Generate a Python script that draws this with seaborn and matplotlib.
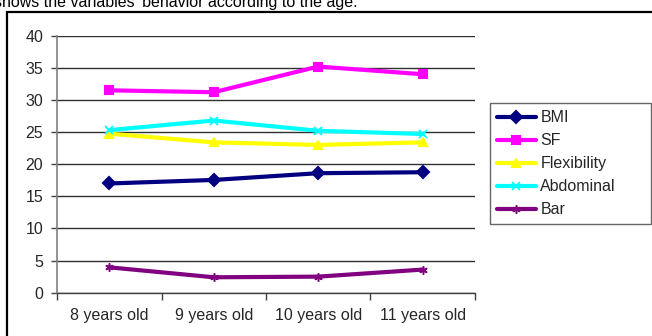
import matplotlib
matplotlib.use("Agg")
import matplotlib.pyplot as plt
import seaborn as sns
import pandas as pd
from matplotlib.patches import Rectangle

ages = ["8 years old", "9 years old", "10 years old", "11 years old"]
bmi = [17.0, 17.55, 18.6, 18.75]
sf = [31.5, 31.2, 35.2, 34.0]
flexibility = [24.75, 23.4, 23.0, 23.4]
abdominal = [25.3, 26.8, 25.2, 24.7]
bar = [3.95, 2.4, 2.5, 3.6]
series_names = ["BMI", "SF", "Flexibility", "Abdominal", "Bar"]
y_ticks = [0, 5, 10, 15, 20, 25, 30, 35, 40]
caption = "shows the variables' behavior according to the age."

sns.set_theme(style="white")
plt.rcParams["font.family"] = ["Liberation Sans", "DejaVu Sans"]

W, H = 652, 336
fig = plt.figure(figsize=(W / 100, H / 100), dpi=100)

# outer chart frame and caption
fig.patches.append(Rectangle((7 / W, -0.1), 1.1, 1 - 12 / H + 0.1,
                             transform=fig.transFigure, fill=False,
                             edgecolor="black", linewidth=1.6))
fig.text(-6 / W, 1 - 7 / H, caption, fontsize=11.5, va="baseline", ha="left",
         color="black")

ax = fig.add_axes([57 / W, (H - 292.7) / H, 418 / W, 257 / H])

df = pd.DataFrame({
    "age": ages * 5,
    "value": bmi + sf + flexibility + abdominal + bar,
    "series": sum([[n] * 4 for n in series_names], []),
})
palette = {"BMI": "#000080", "SF": "#FF00FF", "Flexibility": "#FFFF00",
           "Abdominal": "#00FFFF", "Bar": "#800080"}
markers = {"BMI": "D", "SF": "s", "Flexibility": "^", "Abdominal": "x",
           "Bar": (6, 2, 0)}
sizes = {"BMI": 10, "SF": 10, "Flexibility": 8, "Abdominal": 12, "Bar": 13}
mews = {"BMI": 1.5, "SF": 1.5, "Flexibility": 1.5, "Abdominal": 1.3, "Bar": 1.1}

for name in series_names:
    sub = df[df["series"] == name]
    sns.lineplot(data=sub, x="age", y="value", ax=ax, color=palette[name],
                 marker=markers[name], markersize=sizes[name],
                 markeredgecolor=palette[name], markerfacecolor=palette[name],
                 markeredgewidth=mews[name], linewidth=3, label=name, sort=False)

ax.set_xlim(-0.5, 3.5)
ax.set_ylim(0, 40)
ax.set_yticks(y_ticks)
ax.set_yticklabels([str(t) for t in y_ticks], fontsize=11.5)
ax.set_xticks([-0.5, 0.5, 1.5, 2.5, 3.5])
ax.set_xticklabels([])
ax.set_xticks(range(4), minor=True)
ax.set_xticklabels(ages, minor=True, fontsize=11.5)
ax.tick_params(axis="x", which="major", direction="out", length=5, width=1,
               color="#404040", bottom=True)
ax.tick_params(axis="x", which="minor", length=0, pad=11)
ax.tick_params(axis="y", direction="out", length=4, width=1, color="#404040",
               left=True, pad=6)
ax.set_xlabel("")
ax.set_ylabel("")
ax.grid(axis="y", color="#303030", linewidth=1)
ax.set_axisbelow(True)
for s in ["top", "right"]:
    ax.spines[s].set_visible(False)
ax.spines["left"].set_color("#808080")
ax.spines["bottom"].set_color("#404040")
ax.spines["left"].set_linewidth(1.2)
ax.spines["bottom"].set_linewidth(1)

handles, labels = ax.get_legend_handles_labels()
for h in handles:
    h.set_markersize(6)
leg = fig.legend(handles, labels, loc="upper left",
                 bbox_to_anchor=(490 / W, 1 - 103 / H, 161 / W, 0),
                 bbox_transform=fig.transFigure, fontsize=11.5, frameon=True,
                 fancybox=False, shadow=False, borderaxespad=0, mode="expand",
                 handlelength=2.4, handletextpad=0.3, labelspacing=0.5,
                 borderpad=0.45)
leg.get_frame().set_edgecolor("#404040")
leg.get_frame().set_linewidth(1)
leg.get_frame().set_facecolor("white")
if ax.get_legend():
    ax.get_legend().remove()

fig.savefig("out.png", dpi=100)
